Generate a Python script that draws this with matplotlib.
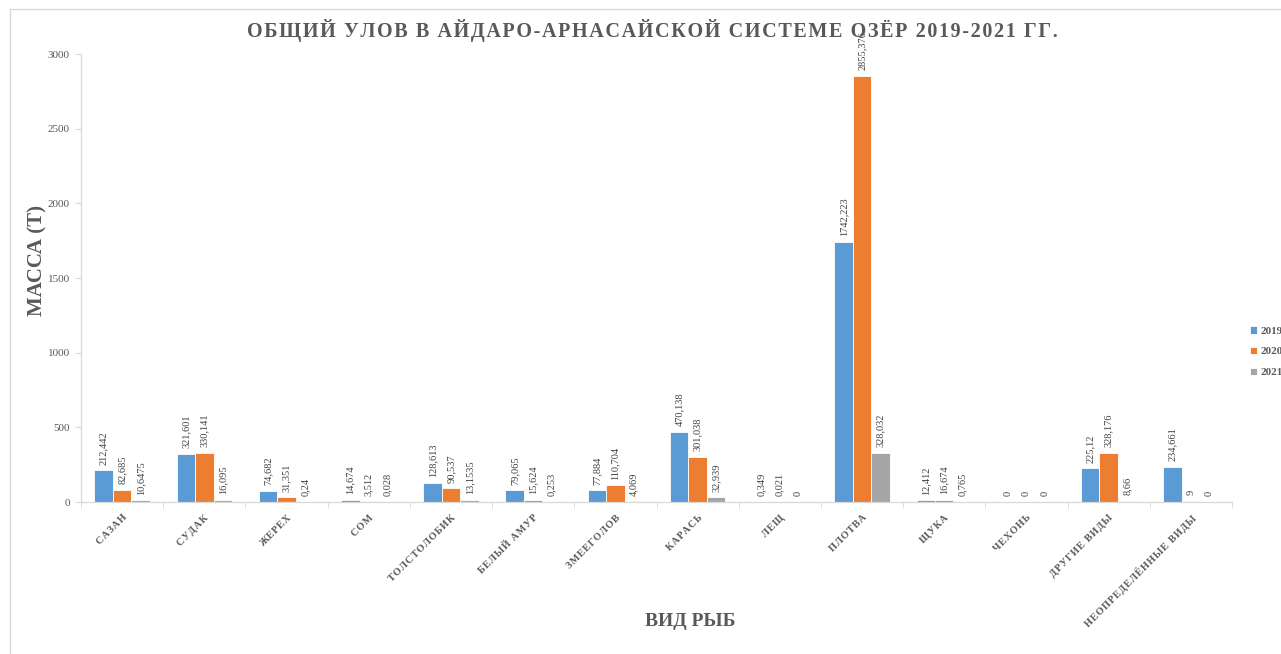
import matplotlib
matplotlib.use("Agg")
import matplotlib.pyplot as plt
import numpy as np
from matplotlib.lines import Line2D

categories = ["САЗАН", "СУДАК", "ЖЕРЕХ", "СОМ", "ТОЛСТОЛОБИК", "БЕЛЫЙ АМУР",
              "ЗМЕЕГОЛОВ", "КАРАСЬ", "ЛЕЩ", "ПЛОТВА", "ЩУКА", "ЧЕХОНЬ",
              "ДРУГИЕ ВИДЫ", "НЕОПРЕДЕЛЁННЫЕ ВИДЫ"]
v2019 = [212.442, 321.601, 74.682, 14.674, 128.613, 79.065, 77.884, 470.138,
         0.349, 1742.223, 12.412, 0, 225.12, 234.661]
v2020 = [82.685, 330.141, 31.351, 3.512, 90.537, 15.624, 110.704, 301.038,
         0.021, 2855.376, 16.674, 0, 328.176, 9]
v2021 = [10.6475, 16.095, 0.24, 0.028, 13.1535, 0.253, 4.069, 32.939,
         0, 328.032, 0.765, 0, 8.66, 0]
series_names = ["2019", "2020", "2021"]
yticks = [0, 500, 1000, 1500, 2000, 2500, 3000]
title = "ОБЩИЙ УЛОВ В АЙДАРО-АРНАСАЙСКОЙ СИСТЕМЕ ОЗЁР 2019-2021 ГГ."

colors = ["#5B9BD5", "#ED7D31", "#A5A5A5"]
SERIF = ["Liberation Serif", "DejaVu Serif"]
GRAY = "#595959"

W, H = 1281, 654
fig = plt.figure(figsize=(W / 100, H / 100), dpi=100)
ax = fig.add_axes([81 / W, 1 - 502 / H, (1232 - 81) / W, (502 - 54) / H])

def fmt(v):
    s = f"{v:.4f}".rstrip("0").rstrip(".")
    return s.replace(".", ",")

def spaced(s, sep="\u200a"):
    return sep.join(s)

x = np.arange(len(categories))
bw = 0.225
handles = []
for i, (vals, c) in enumerate(zip([v2019, v2020, v2021], colors)):
    xs = x + (i - 1) * bw
    bars = ax.bar(xs, vals, width=bw, color=c, edgecolor="white", linewidth=0.6)
    handles.append(bars)
    for xi, v in zip(xs, vals):
        ax.annotate(fmt(v), (xi, v), xytext=(0, 4), textcoords="offset points",
                    rotation=90, ha="center", va="bottom", fontsize=7.5,
                    family=SERIF, color="#404040")

ax.set_xlim(-0.5, len(categories) - 0.5)
ax.set_ylim(0, 3000)
ax.set_yticks(yticks)
ax.set_yticklabels([str(t) for t in yticks], family=SERIF, fontsize=8, color=GRAY)
ax.set_xticks(x)
ax.set_xticklabels([spaced(c) for c in categories], rotation=45, ha="right",
                   rotation_mode="anchor", family=SERIF, fontsize=7.3,
                   fontweight="bold", color=GRAY)
ax.set_xticks(np.arange(len(categories) + 1) - 0.5, minor=True)
ax.tick_params(axis="x", which="major", length=0, pad=8)
ax.tick_params(axis="x", which="minor", length=4, color="#D9D9D9")
ax.tick_params(axis="y", length=4, color="#D9D9D9", pad=4)
for s in ["top", "right"]:
    ax.spines[s].set_visible(False)
for s in ["left", "bottom"]:
    ax.spines[s].set_color("#D9D9D9")
    ax.spines[s].set_linewidth(0.9)

fig.text(652 / W, 1 - 30 / H, spaced(title, "\u200a"),
         ha="center", va="center", family=SERIF, fontsize=14.5, fontweight="bold",
         color=GRAY)
fig.text(37 / W, 1 - 260 / H, "МАССА (Т)", rotation=90, ha="center", va="center",
         family=SERIF, fontsize=15, fontweight="bold", color=GRAY)
fig.text(690 / W, 1 - 622 / H, "ВИД РЫБ", ha="center", va="center",
         family=SERIF, fontsize=14, fontweight="bold", color=GRAY)

leg = fig.legend(handles, series_names, loc="upper left",
                 bbox_to_anchor=(1246 / W, 1 - 322 / H), frameon=False,
                 prop={"family": SERIF, "size": 8, "weight": "bold"},
                 handlelength=0.6, handleheight=0.6, handletextpad=0.3,
                 labelspacing=1.0, borderaxespad=0)
for t in leg.get_texts():
    t.set_color(GRAY)

# figure frame (light gray)
fig.add_artist(Line2D([9.5 / W, 1.0], [1 - 9 / H, 1 - 9 / H], transform=fig.transFigure,
                      color="#D9D9D9", linewidth=1))
fig.add_artist(Line2D([9.5 / W, 9.5 / W], [0, 1 - 9 / H], transform=fig.transFigure,
                      color="#D9D9D9", linewidth=1))

fig.savefig("out.png", dpi=100)
